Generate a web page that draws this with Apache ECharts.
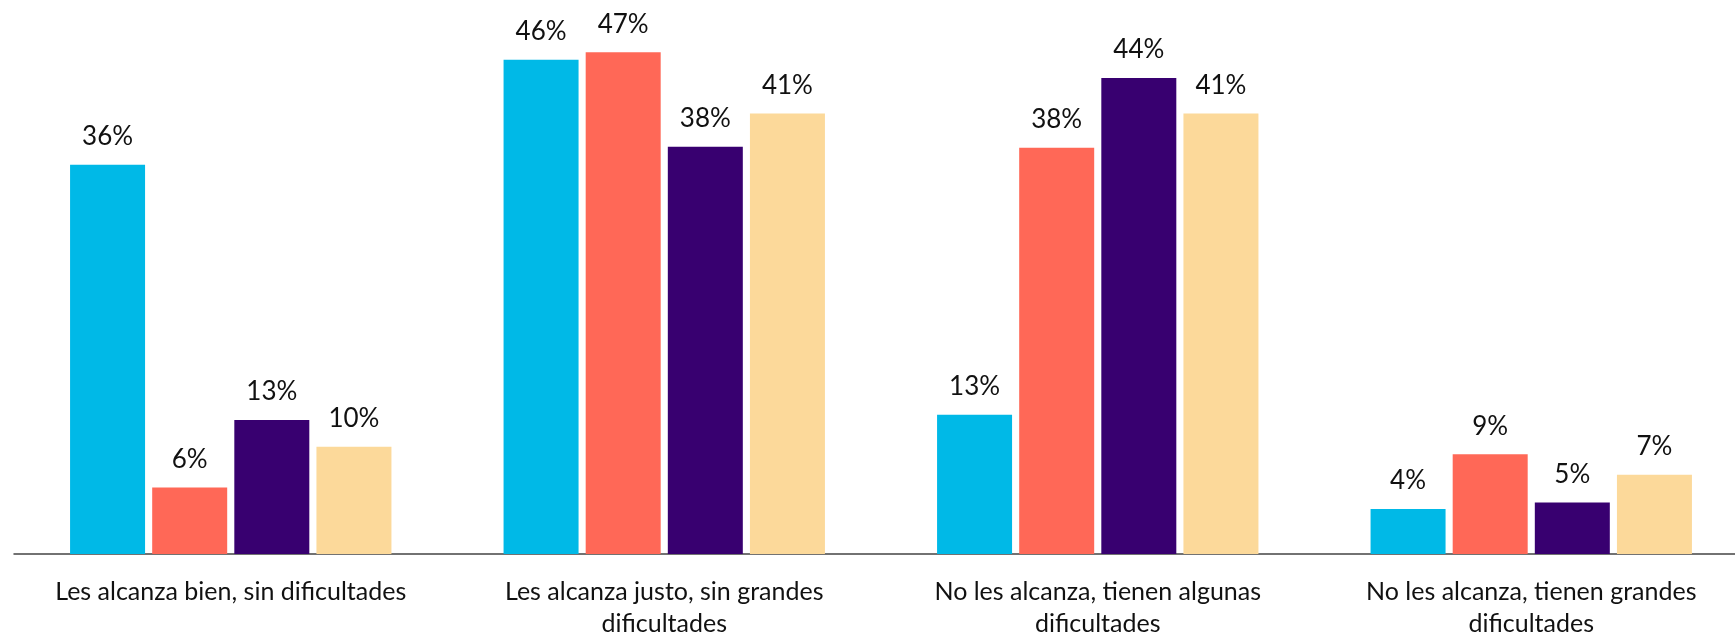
<!DOCTYPE html>
<html>
<head>
<meta charset="utf-8">
<script src="https://cdn.jsdelivr.net/npm/echarts@6/dist/echarts.min.js"></script>
<style>
html,body{margin:0;padding:0;background:#fff;}
#chart{width:1735px;height:632px;}
</style>
</head>
<body>
<div id="chart"></div>
<script>
const categories = [
  "Les alcanza bien, sin dificultades",
  "Les alcanza justo, sin grandes\ndificultades",
  "No les alcanza, tienen algunas\ndificultades",
  "No les alcanza, tienen grandes\ndificultades"
];
const seriesA = [36.3, 46.1, 13.0, 4.2];
const seriesB = [6.2, 46.8, 37.9, 9.3];
const seriesC = [12.5, 38.0, 44.4, 4.8];
const seriesD = [10.0, 41.1, 41.1, 7.4];
const colors = ["#00B9E7", "#FF6857", "#380070", "#FCD99A"];

const chart = echarts.init(document.getElementById('chart'));
const fontFamily = 'Lato, "Open Sans", sans-serif';
function mk(data, color) {
  return {
    type: 'bar',
    data: data,
    barWidth: 75,
    barGap: '9.5%',
    itemStyle: { color: color },
    label: {
      show: true,
      position: 'top',
      distance: 15,
      formatter: function (p) { return Math.round(p.value) + '%'; },
      color: '#111',
      fontSize: 26,
      fontFamily: fontFamily
    }
  };
}
chart.setOption({
  animation: false,
  grid: { left: 14, top: 18, width: 1734, height: 536, containLabel: false, outerBoundsMode: 'none' },
  xAxis: {
    type: 'category',
    data: categories,
    axisLine: { show: true, lineStyle: { color: '#444', width: 1.5 } },
    axisTick: { show: false },
    axisLabel: {
      interval: 0,
      color: '#111',
      fontSize: 25,
      lineHeight: 32,
      margin: 22,
      fontFamily: fontFamily
    }
  },
  yAxis: {
    type: 'value',
    min: 0,
    max: 50,
    show: false,
    splitLine: { show: false }
  },
  series: [
    mk(seriesA, colors[0]),
    mk(seriesB, colors[1]),
    mk(seriesC, colors[2]),
    mk(seriesD, colors[3])
  ]
});
</script>
</body>
</html>
